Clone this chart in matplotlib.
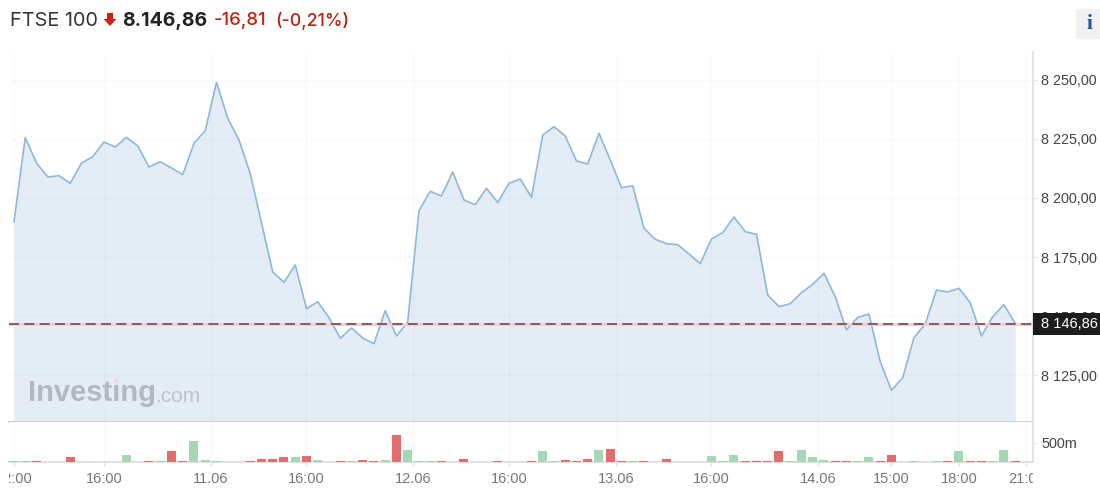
import matplotlib
matplotlib.use("Agg")
import matplotlib.pyplot as plt
from matplotlib.patches import Polygon, Rectangle
from matplotlib.transforms import Bbox

W, H = 1100, 493

# closing prices, 30 min bars
prices = [
    8189.96, 8225.48, 8214.78, 8208.86, 8209.41, 8206.19, 8214.78, 8217.44, 8223.66, 8221.54,
    8225.64, 8221.97, 8213.09, 8215.33, 8212.66, 8209.83, 8223.11, 8228.44, 8248.90, 8233.68,
    8224.50, 8210.34, 8189.41, 8168.69, 8164.33, 8171.65, 8153.17, 8156.13, 8149.37, 8140.66,
    8145.01, 8140.78, 8138.37, 8152.33, 8141.63, 8147.55, 8194.61, 8202.81, 8200.82, 8210.97,
    8199.13, 8197.15, 8204.08, 8198.08, 8206.19, 8208.01, 8200.27, 8226.62, 8230.13, 8226.19,
    8215.62, 8214.36, 8227.34, 8216.05, 8204.33, 8205.18, 8187.17, 8182.52, 8180.66, 8180.23,
    8176.30, 8172.20, 8182.64, 8185.31, 8191.95, 8185.73, 8184.63, 8158.96, 8154.02, 8155.29,
    8159.94, 8163.49, 8168.14, 8158.25, 8144.16, 8149.53, 8150.93, 8130.76, 8118.67, 8124.00,
    8140.91, 8146.70, 8161.08, 8160.23, 8161.80, 8155.71, 8141.63, 8149.79, 8154.86, 8146.86,
]

# volume in millions
volumes = [
    26, 26, 26, 0, 0, 124, 0, 0, 0, 0,
    184, 0, 26, 26, 289, 26, 552, 60, 26, 0,
    0, 26, 87, 87, 124, 124, 158, 60, 0, 26,
    26, 60, 26, 60, 710, 323, 26, 26, 26, 0,
    87, 0, 0, 26, 0, 0, 26, 289, 26, 60,
    26, 87, 323, 350, 26, 26, 26, 0, 87, 0,
    0, 0, 158, 26, 184, 26, 26, 26, 289, 26,
    316, 124, 60, 26, 26, 26, 124, 26, 184, 0,
    26, 0, 26, 26, 289, 26, 26, 26, 316, 26,
]
vol_dirs = (
    "ggrggrgggg"
    "ggrgrrgggg"
    "grrrrgrggr"
    "grrgrgggrg"
    "rggrggrggr"
    "rrgrrgrgrg"
    "gggggrrrrg"
    "gggrrggrrg"
    "gggrgrrggr"
)

tick_pos = [0, 8, 17.5, 26, 35.5, 44, 53.5, 62, 71.5, 78, 84, 90]
tick_labels = ["12:00", "16:00", "11.06", "16:00", "12.06", "16:00", "13.06", "16:00", "14.06", "15:00", "18:00", "21:00"]
price_ticks = [8125, 8150, 8175, 8200, 8225, 8250]
last_price = 8146.86
price_labels = ["8 125,00", "8 150,00", "8 175,00", "8 200,00", "8 225,00", "8 250,00"]

plt.rcParams["font.family"] = ["Liberation Sans", "DejaVu Sans"]


def box(left, top, right, bottom):
    return [left / W, 1 - bottom / H, (right - left) / W, (bottom - top) / H]


def put(x, y, s, **kw):
    return fig.text(x / W, 1 - y / H, s, **kw)


fig = plt.figure(figsize=(11, 4.93), dpi=100, facecolor="white")
ax = fig.add_axes(box(9, 52, 1033, 422))
ax_vol = fig.add_axes(box(9, 422, 1033, 462), sharex=ax)

xs = list(range(len(prices)))
base = 8105.26
ax.fill_between(xs, prices, base, color="#e4edf5", lw=0, zorder=1)
ax.plot(xs, prices, color="#8db8d8", lw=1.2, zorder=3)
ax.axhline(last_price, color="#f4cfd2", lw=2.2, zorder=4)
ax.axhline(last_price, color="#6e4a50", lw=1.2, dashes=(6, 3.2), zorder=5)
ax.set_xlim(-0.444, 90.58)
ax.set_ylim(base, 8261.71)

ax.set_xticks(tick_pos)
ax.set_yticks(price_ticks)
ax.set_yticklabels(price_labels)
ax.grid(True, color="black", alpha=0.02, lw=1, zorder=2)
ax.set_axisbelow(False)
ax.yaxis.tick_right()
ax.tick_params(axis="y", length=3, width=1, color="#e6e6e6", labelcolor="#444444", labelsize=10.4, pad=3)
ax.tick_params(axis="x", length=0, labelbottom=False)

colors = ["#e26d6d" if d == "r" else "#a6d7b5" for d in vol_dirs]
ax_vol.bar(xs, volumes, width=0.8, color=colors, lw=0, zorder=3)
ax_vol.set_ylim(0, 1052)
ax_vol.set_yticks([500])
ax_vol.set_yticklabels(["500m"])
ax_vol.yaxis.tick_right()
ax_vol.grid(True, axis="x", color="black", alpha=0.02, lw=1)
ax_vol.tick_params(axis="y", length=3, width=1, color="#e6e6e6", labelcolor="#444444", labelsize=10.4, pad=3)
ax_vol.set_xticks(tick_pos)
ax_vol.set_xticklabels(tick_labels)
ax_vol.tick_params(axis="x", length=3, width=1, color="#e0e0e0", labelcolor="#777777", labelsize=10.5, pad=4)
clip = Bbox([[9, 0], [1033, 40]])
for lab in ax_vol.get_xticklabels():
    lab.set_clip_on(True)
    lab.set_clip_box(clip)

for a in (ax, ax_vol):
    for side in ("left", "top"):
        a.spines[side].set_visible(False)
    a.spines["right"].set_color("#e4e4e4")
    a.spines["right"].set_linewidth(1.4)
ax.spines["bottom"].set_color("#c9ccd3")
ax.spines["bottom"].set_linewidth(1.3)
ax_vol.spines["bottom"].set_color("#dcdcdc")
ax_vol.spines["bottom"].set_linewidth(1.2)

# badge with the last price
fig.add_artist(Rectangle((1033 / W, 1 - 335 / H), 67 / W, 22 / H, transform=fig.transFigure, color="#1d1d1d", lw=0, zorder=6))
put(1041, 323.5, "8 146,86", color="white", fontsize=10.5, va="center", ha="left", zorder=7)

# header
put(10, 20.5, "FTSE 100", family="Inter", fontsize=14.3, color="#333333", va="center")
arrow = [(107, 13), (113, 13), (113, 19), (116.5, 19), (110, 26), (103.5, 19), (107, 19)]
fig.add_artist(Polygon([(x / W, 1 - y / H) for x, y in arrow], transform=fig.transFigure, color="#cc2211", lw=0))
put(122, 20.5, "8.146,86", family="Inter", fontweight="bold", fontsize=14, color="#222222", va="center")
put(214, 20.5, "-16,81", family="Inter", fontweight="medium", fontsize=13.4, color="#c0200f", va="center")
put(275, 20.5, "(-0,21%)", family="Inter", fontweight="medium", fontsize=12.8, color="#c0200f", va="center")

# info button
fig.add_artist(Rectangle((1076 / W, 1 - 39 / H), 24 / W, 30 / H, transform=fig.transFigure, color="#f1f1f1", lw=0))
put(1090, 24, "i", family="Liberation Serif", fontweight="bold", fontsize=15.5, color="#1c5a9c", va="center", ha="center")

# watermark
put(28, 393, "Investing", fontweight="bold", fontsize=21, color="#b2b8c0", va="center", zorder=8)
put(155, 396, ".com", fontsize=15, color="#bcc2ca", va="center", zorder=8)
fig.add_artist(Rectangle((114 / W, 1 - 383 / H), 4 / W, 4 / H, transform=fig.transFigure, color="#e6e2c4", lw=0, zorder=9))

fig.savefig("out.png", dpi=100)
